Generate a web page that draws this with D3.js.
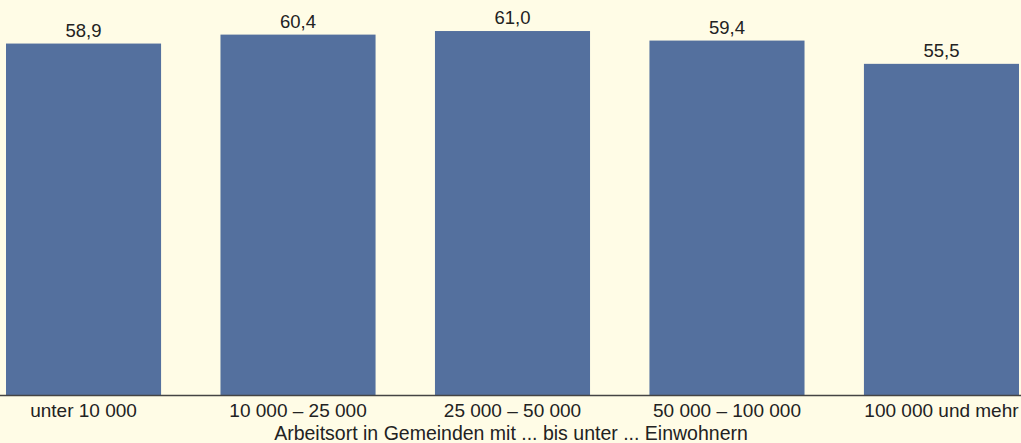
<!DOCTYPE html>
<html>
<head>
<meta charset="utf-8">
<script src="https://cdn.jsdelivr.net/npm/d3@7"></script>
<style>
  body { margin: 0; background: #fffce6; }
  svg { display: block; }
</style>
</head>
<body>
<div id="chart"></div>
<script>
var categories = ["unter 10 000", "10 000 – 25 000", "25 000 – 50 000", "50 000 – 100 000", "100 000 und mehr"]
var values = [58.9, 60.4, 61.0, 59.4, 55.5]
var value_labels = ["58,9", "60,4", "61,0", "59,4", "55,5"]
var axis_title = "Arbeitsort in Gemeinden mit ... bis unter ... Einwohnern"

var width = 1021
var height = 443
var baseline = 395
var font = "'Liberation Sans', Arial, sans-serif"

var svg = d3.select("#chart")
    .append("svg")
    .attr("width", width)
    .attr("height", height)
    .style("font-family", font)

svg.append("rect")
    .attr("width", width)
    .attr("height", height)
    .attr("fill", "#fffce6")

var x = d3.scaleBand()
    .domain(categories)
    .range([6, 1019])
    .paddingInner(0.277)
    .paddingOuter(0)

var y = d3.scaleLinear()
    .domain([0, 66.2])
    .range([baseline, 0])

// bars
svg.append("g")
    .selectAll("rect")
    .data(values)
    .join("rect")
    .attr("x", function (d, i) { return x(categories[i]) })
    .attr("y", function (d) { return y(d) })
    .attr("width", x.bandwidth())
    .attr("height", function (d) { return y(0) - y(d) })
    .attr("fill", "#54709e")

// value labels
svg.append("g")
    .selectAll("text")
    .data(values)
    .join("text")
    .attr("x", function (d, i) { return x(categories[i]) + x.bandwidth() / 2 })
    .attr("y", function (d) { return y(d) - 7 })
    .attr("text-anchor", "middle")
    .attr("font-size", "18.5px")
    .attr("fill", "#222")
    .text(function (d, i) { return value_labels[i] })

// x axis
var xAxis = svg.append("g")
    .attr("transform", `translate(0, ${baseline})`)
    .call(d3.axisBottom(x).tickSize(0).tickPadding(0))

xAxis.select(".domain").remove()
xAxis.selectAll("text")
    .attr("dy", null)
    .attr("y", 22)
    .attr("font-size", "19px")
    .attr("font-family", font)
    .attr("fill", "#222")

svg.append("line")
    .attr("x1", 0)
    .attr("x2", width)
    .attr("y1", baseline + 0.5)
    .attr("y2", baseline + 0.5)
    .attr("stroke", "#444")
    .attr("stroke-width", 1.5)

svg.append("text")
    .attr("x", 511)
    .attr("y", 440)
    .attr("text-anchor", "middle")
    .attr("font-size", "19.5px")
    .attr("fill", "#222")
    .text(axis_title)
</script>
</body>
</html>
